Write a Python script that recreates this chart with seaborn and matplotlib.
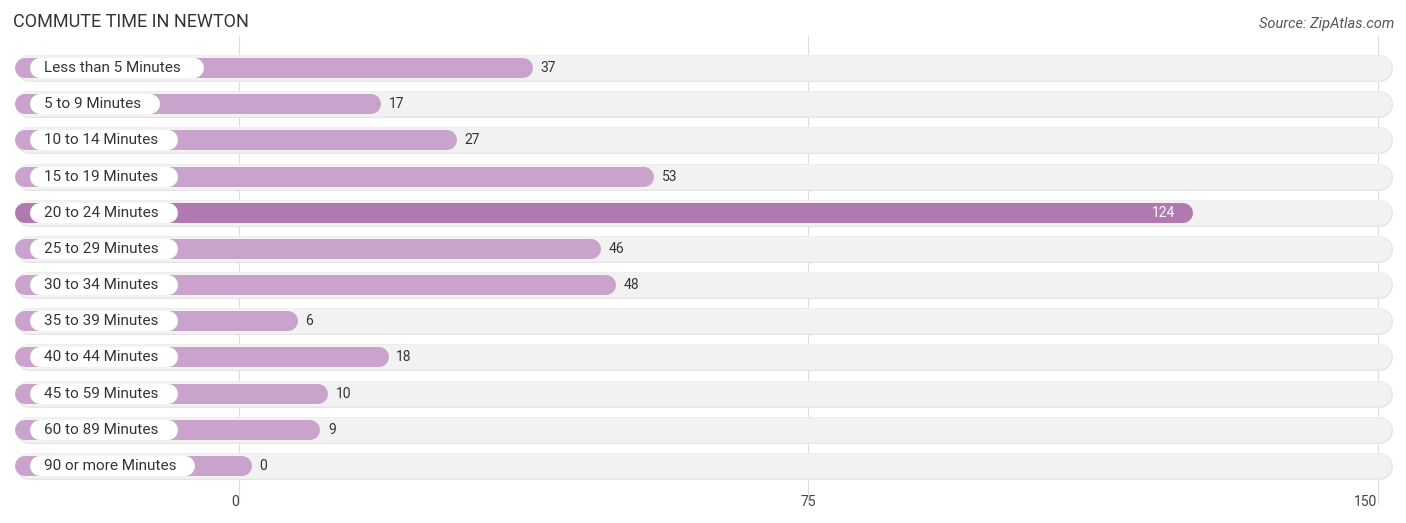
import matplotlib
matplotlib.use("Agg")
import matplotlib.pyplot as plt
import seaborn as sns
import pandas as pd

categories = ["Less than 5 Minutes","5 to 9 Minutes","10 to 14 Minutes","15 to 19 Minutes",
              "20 to 24 Minutes","25 to 29 Minutes","30 to 34 Minutes","35 to 39 Minutes",
              "40 to 44 Minutes","45 to 59 Minutes","60 to 89 Minutes","90 or more Minutes"]
values = [37,17,27,53,124,46,48,6,18,10,9,0]
ticks = [0,75,150]

sns.set_theme(style="white", font="Roboto")
fig = plt.figure(figsize=(14.06,5.23), dpi=100)
ax = fig.add_axes([10/1406, (523-484)/523, 1385/1406, (484-50)/523])

LEFT = -29.5
RIGHT = 152.0
OFF = 1.7
PXU = 569/75.0  # pixels per unit
PT = 0.72       # points per pixel at dpi 100
df = pd.DataFrame({"cat": categories, "w": [v + OFF - LEFT for v in values]})
sns.barplot(data=df, x="w", y="cat", orient="h", ax=ax, color="#c9a3cb", width=0.56)
ax.set_xlim(LEFT-0.7, RIGHT+0.3)
ax.set_ylim(len(categories)-0.5, -0.5)

def pill(x0, x1, yc, hpx, color, z):
    r = hpx/2/PXU
    ax.plot([x0+r, max(x1-r, x0+r)], [yc, yc], color=color, lw=hpx*PT,
            solid_capstyle="round", zorder=z)

patches = list(ax.patches)
for i, p in enumerate(patches):
    y, h, w = p.get_y(), p.get_height(), p.get_width()
    p.remove()
    yc = y + h/2
    pill(LEFT, RIGHT, yc, 27, "#e4e4e4", 1)
    pill(LEFT+0.12, RIGHT-0.12, yc, 25.5, "#f2f2f2", 1.1)
    col = "#b07ab0" if values[i] == max(values) else "#c9a3cb"
    end = LEFT + w
    pill(LEFT, end, yc, 20, col, 2)
    lw_ = len(categories[i]) * 1.15 + 1.0
    pill(LEFT+2.0, LEFT+2.0+lw_, yc, 20, "white", 3)
    ax.text(LEFT+3.8, yc, categories[i], va="center", ha="left", fontsize=11, color="#333333", zorder=4)
    if values[i] == max(values):
        ax.text(end-2.3, yc, str(values[i]), va="center", ha="right", fontsize=10, color="white", zorder=4)
    else:
        ax.text(end+1, yc, str(values[i]), va="center", ha="left", fontsize=10, color="#333333", zorder=4)

for t in ticks:
    ax.plot([t, t], [-0.9, 12.05], color="#dddddd", lw=0.8, zorder=0.5, clip_on=False)
ax.set_xticks(ticks)
ax.set_xticklabels([str(t) for t in ticks], fontsize=10, color="#444444")
for lab, ha in zip(ax.get_xticklabels(), ["right","center","right"]):
    lab.set_ha(ha)
ax.tick_params(axis="x", length=0, pad=8)
ax.set_yticks([])
ax.set_xlabel(""); ax.set_ylabel("")
for s in ax.spines.values():
    s.set_visible(False)

fig.text(13/1406, 1-22/523, "COMMUTE TIME IN NEWTON", fontsize=13, color="#333333", va="center", ha="left")
fig.text(1394/1406, 1-24/523, "Source: ZipAtlas.com", fontsize=10.5, color="#555555", style="italic", va="center", ha="right")
fig.savefig("out.png", dpi=100)
